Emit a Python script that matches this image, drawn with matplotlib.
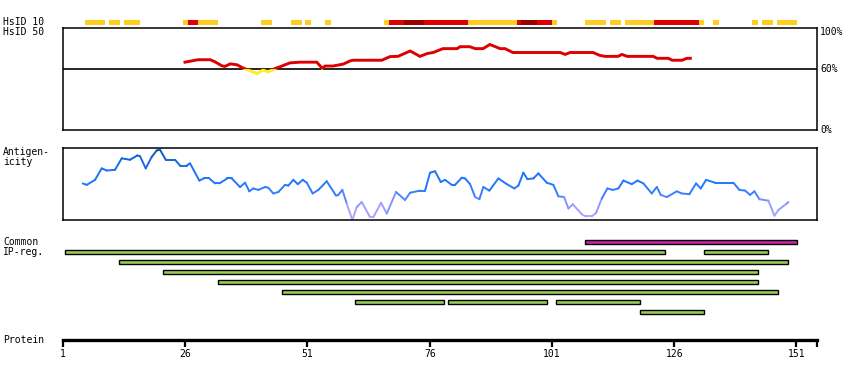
import numpy as np
import matplotlib
matplotlib.use('Agg')
import matplotlib.pyplot as plt
from matplotlib.collections import LineCollection
from matplotlib.colors import LinearSegmentedColormap
from matplotlib.patches import Rectangle

plt.rcParams['font.family'] = ['DejaVu Sans Mono']
plt.rcParams['font.size'] = 7

# protein length and tick positions
prot_len = 155.2
tick_res = [1, 26, 51, 76, 101, 126, 151]

# HsID 10 strip: (start, end, level) level 1 = yellow, 2 = red, 3 = dark red
hsid10_start = [5.5, 10.4, 13.5, 25.5, 26.6, 28.6, 41.5, 47.6, 50.5, 54.6, 66.6, 67.7, 70.7, 74.8,
                83.8, 93.9, 94.7, 98.0, 101.0, 107.8, 112.9, 115.9, 121.9, 131.1, 133.9, 141.9, 144.0, 147.0]
hsid10_end = [9.6, 12.7, 16.7, 26.6, 28.6, 32.7, 43.7, 49.9, 51.7, 55.8, 67.7, 70.7, 74.8, 83.8,
              93.9, 94.7, 98.0, 101.0, 102.0, 112.1, 115.1, 121.9, 131.1, 132.1, 135.1, 143.1, 146.2, 151.1]
hsid10_level = [1, 1, 1, 1, 2, 1, 1, 1, 1, 1, 1, 2, 3, 2,
                1, 2, 3, 2, 1, 1, 1, 1, 2, 1, 1, 1, 1, 1]

# HsID 50 identity (%)
hsid50_res = [25.95, 28.6, 31.1, 32.1, 33.5, 34.1, 35.2, 36.6, 37.8, 39.2, 40.7, 41.9, 42.9, 44.3,
              45.4, 47.4, 49.5, 52.9, 54.0, 54.6, 56.2, 58.3, 59.7, 60.3, 66.2, 67.9, 69.5, 72.0,
              74.0, 75.5, 76.7, 78.7, 81.6, 82.2, 84.2, 85.3, 86.9, 88.3, 90.4, 91.4, 93.0, 102.7,
              103.7, 104.7, 109.4, 110.8, 111.9, 114.5, 115.3, 116.4, 121.7, 122.5, 124.8, 125.6,
              127.6, 128.6, 129.3]
hsid50_val = [66.7, 69.1, 69.1, 67.0, 63.1, 62.5, 65.0, 64.1, 61.0, 58.4, 55.5, 59.0, 57.1, 60.3,
              62.2, 66.0, 66.7, 66.7, 60.8, 62.9, 62.9, 64.8, 67.9, 68.6, 68.6, 72.2, 72.4, 77.7,
              72.4, 75.2, 76.2, 80.0, 80.0, 81.9, 81.9, 80.0, 80.0, 84.1, 80.0, 80.0, 76.2, 76.2,
              74.3, 76.2, 76.2, 73.3, 72.4, 72.4, 74.3, 72.4, 72.4, 70.5, 70.5, 68.6, 68.6, 70.5,
              70.5]

# antigenicity (relative, 0 = panel bottom, 1 = panel top)
antigen_res = [5.03, 5.85, 7.55, 8.92, 9.94, 11.64, 13.01, 14.70, 16.20, 16.75, 17.92, 19.14, 20.17,
               20.84, 22.01, 23.91, 24.93, 26.30, 26.98, 28.88, 29.84, 30.92, 32.09, 32.97, 34.61,
               35.51, 37.20, 38.23, 39.11, 39.92, 40.95, 42.32, 42.99, 44.01, 45.04, 46.41, 47.08,
               48.11, 49.01, 50.03, 50.85, 52.07, 53.22, 54.94, 56.84, 57.31, 58.13, 59.03, 60.17,
               61.07, 62.10, 63.79, 64.47, 66.05, 67.21, 69.11, 70.95, 71.98, 74.02, 75.04, 76.07,
               77.09, 78.25, 79.13, 80.50, 81.18, 82.55, 83.23, 84.25, 85.28, 86.15, 86.97, 88.20,
               90.04, 91.76, 93.31, 94.13, 95.15, 95.97, 97.20, 98.22, 99.94, 101.29, 102.31, 103.48,
               104.36, 105.26, 107.10, 107.91, 109.14, 110.02, 111.19, 112.33, 113.44, 114.58, 115.60,
               117.32, 118.47, 119.69, 121.41, 122.44, 123.25, 124.48, 126.53, 127.55, 129.10, 130.47,
               131.43, 132.52, 134.36, 138.10, 139.33, 140.50, 141.52, 142.40, 143.42, 145.26, 146.49,
               147.31, 149.02, 149.35]
antigen_val = [0.51, 0.49, 0.56, 0.72, 0.69, 0.70, 0.86, 0.84, 0.90, 0.89, 0.72, 0.88, 0.97,
               0.98, 0.84, 0.84, 0.76, 0.76, 0.79, 0.55, 0.58, 0.58, 0.51, 0.51, 0.58,
               0.58, 0.46, 0.52, 0.40, 0.44, 0.42, 0.46, 0.45, 0.37, 0.39, 0.49, 0.48,
               0.56, 0.50, 0.56, 0.52, 0.37, 0.42, 0.54, 0.34, 0.35, 0.42, 0.23, 0.00,
               0.18, 0.25, 0.04, 0.04, 0.24, 0.09, 0.39, 0.28, 0.38, 0.41, 0.41, 0.66,
               0.68, 0.53, 0.56, 0.49, 0.49, 0.59, 0.58, 0.50, 0.32, 0.29, 0.46, 0.41,
               0.58, 0.50, 0.44, 0.48, 0.66, 0.57, 0.58, 0.65, 0.52, 0.49, 0.33, 0.32,
               0.16, 0.22, 0.08, 0.05, 0.05, 0.10, 0.30, 0.44, 0.42, 0.44, 0.55,
               0.50, 0.55, 0.51, 0.37, 0.46, 0.35, 0.32, 0.40, 0.37, 0.36, 0.51,
               0.44, 0.56, 0.52, 0.52, 0.42, 0.41, 0.35, 0.40, 0.29, 0.27, 0.06,
               0.14, 0.23, 0.25]

# common IP regions: row, start, end, kind (0 = magenta, 1 = green)
ip_row = [0, 1, 1, 2, 3, 4, 5, 6, 6, 6, 7]
ip_start = [107.8, 1.5, 132.0, 12.5, 21.5, 32.6, 45.7, 60.8, 79.8, 101.9, 118.9]
ip_end = [151.1, 124.1, 145.1, 149.2, 143.1, 143.1, 147.2, 78.9, 99.9, 119.0, 132.1]
ip_kind = [0, 1, 1, 1, 1, 1, 1, 1, 1, 1, 1]

W, H = 850, 380
fig = plt.figure(figsize=(W / 100, H / 100), dpi=100)
x0, x1 = 63, 817


def add_ax(top, bottom):
    return fig.add_axes([x0 / W, 1 - bottom / H, (x1 - x0) / W, (bottom - top) / H])


level_color = {1: '#ffcc22', 2: '#dd0000', 3: '#990000'}
ip_color = {0: '#cc22aa', 1: '#99cc55'}

# HsID 10 strip
ax10 = add_ax(20, 25)
for s, e, lv in zip(hsid10_start, hsid10_end, hsid10_level):
    ax10.broken_barh([(s, e - s)], (0, 1), facecolor=level_color[lv], edgecolor='none')
ax10.set_xlim(1, prot_len)
ax10.set_ylim(0, 1)
ax10.axis('off')

# HsID 50 panel
ax50 = add_ax(28.3, 130)
ax50.set_xlim(1, prot_len)
ax50.set_ylim(0, 100)
ax50.axhline(60, color='black', lw=1.2)
for y0, y1, c in [(60, 100, '#dd0000'), (0, 60, '#ffee22')]:
    ln, = ax50.plot(hsid50_res, hsid50_val, color=c, lw=2.1, solid_joinstyle='miter')
    clip = Rectangle((0, y0), 200, y1 - y0, transform=ax50.transData)
    ln.set_clip_path(clip)
ax50.set_xticks([])
ax50.set_yticks([])
for sp in ax50.spines.values():
    sp.set_linewidth(1.1)
for v, lab in [(96, '100%'), (60, '60%'), (0, '0%')]:
    ax50.text(1.004, v, lab, transform=ax50.get_yaxis_transform(), ha='left', va='center')

# antigenicity panel
axa = add_ax(148.3, 220)
axa.set_xlim(1, prot_len)
axa.set_ylim(0, 1)
cmap = LinearSegmentedColormap.from_list('ag', [(0.0, '#b4a8ff'), (0.15, '#a2a0ff'), (0.28, '#7790ff'),
                                                (0.36, '#3d80ff'), (0.5, '#2277ff'), (0.75, '#1a6ef0'),
                                                (0.88, '#1060cc'), (1.0, '#0a4fa8')])
pts = np.column_stack([antigen_res, antigen_val])
segs = np.stack([pts[:-1], pts[1:]], axis=1)
mids = (np.array(antigen_val[:-1]) + np.array(antigen_val[1:])) / 2
lc = LineCollection(segs, colors=cmap(mids), linewidths=1.4, capstyle='round')
axa.add_collection(lc)
axa.set_xticks([])
axa.set_yticks([])
for sp in axa.spines.values():
    sp.set_linewidth(1.1)

# common IP regions
axi = add_ax(237, 317)
axi.set_xlim(1, prot_len)
axi.set_ylim(7.5, -0.5)
for r, s, e, k in zip(ip_row, ip_start, ip_end, ip_kind):
    axi.barh(r, e - s, left=s, height=0.42, color=ip_color[k], edgecolor='black', linewidth=1.0)
axi.axis('off')

# protein axis
axp = add_ax(337, 340)
axp.set_xlim(1, prot_len)
axp.set_ylim(0, 1)
for name in ['top', 'left', 'right']:
    axp.spines[name].set_visible(False)
axp.spines['bottom'].set_linewidth(2.4)
axp.set_yticks([])
axp.set_xticks(tick_res + [prot_len])
axp.set_xticklabels([str(t) for t in tick_res] + [''])
axp.tick_params(axis='x', length=5, width=1.6, pad=1.5, labelsize=7)
axp.set_facecolor('none')

# left labels
for y, txt in [(22, 'HsID 10'), (32, 'HsID 50'), (157, 'Antigen-\nicity'),
               (247, 'Common\nIP-reg.'), (340, 'Protein')]:
    fig.text(3 / W, 1 - y / H, txt, ha='left', va='center', linespacing=0.95)

fig.savefig('out.png', dpi=100)
